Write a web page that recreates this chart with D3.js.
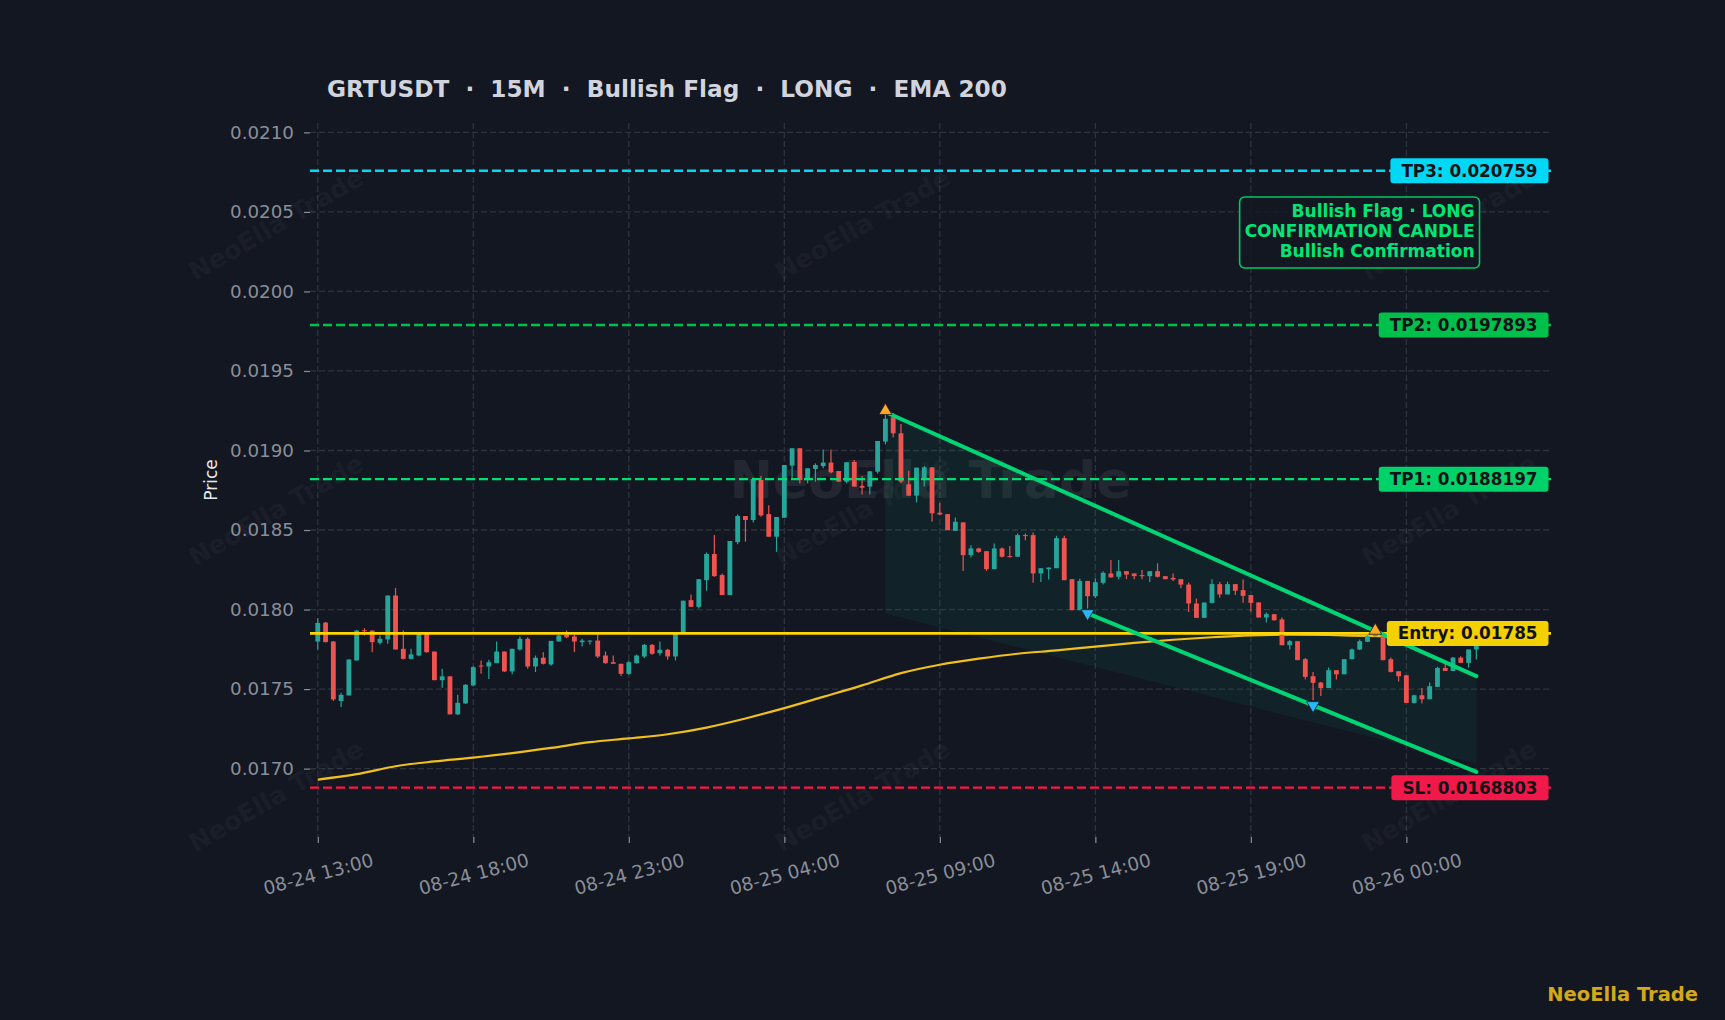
<!DOCTYPE html>
<html lang="en">
<head>
<meta charset="UTF-8">
<title>GRTUSDT 15M Bullish Flag</title>
<script src="https://cdn.jsdelivr.net/npm/d3@7"></script>
<style>
  body { margin: 0; background: #131722; overflow: hidden; }
  svg { display: block; font-family: "DejaVu Sans", sans-serif; }
</style>
</head>
<body>
<svg id="chart" width="1725" height="1020"></svg>
<script>
// ---- data (15m candles, first bar 08-24 13:00) ----
const opens = [
  0.017799,0.017918,0.017799,0.017425,0.017460,0.017680,0.017870,0.017868,0.017791,0.017812,
  0.018088,0.017753,0.017690,0.017711,0.017850,0.017736,0.017556,0.017580,0.017341,0.017410,
  0.017523,0.017648,0.017642,0.017663,0.017736,0.017611,0.017749,0.017816,0.017642,0.017697,
  0.017655,0.017799,0.017841,0.017831,0.017795,0.017799,0.017805,0.017711,0.017669,0.017659,
  0.017596,0.017663,0.017705,0.017778,0.017726,0.017747,0.017705,0.017847,0.018059,0.018017,
  0.018185,0.018349,0.018217,0.018091,0.018424,0.018588,0.018563,0.018815,0.018600,0.018458,
  0.018577,0.018905,0.019014,0.018814,0.018884,0.018902,0.018924,0.018871,0.018804,0.018928,
  0.018777,0.018773,0.018867,0.019056,0.019209,0.019108,0.018787,0.018716,0.018819,0.018894,
  0.018609,0.018600,0.018495,0.018548,0.018342,0.018384,0.018367,0.018254,0.018384,0.018336,
  0.018332,0.018468,0.018468,0.018227,0.018254,0.018260,0.018449,0.018191,0.017996,0.018180,
  0.018084,0.018168,0.018227,0.018206,0.018241,0.018227,0.018216,0.018210,0.018241,0.018210,
  0.018199,0.018191,0.018157,0.018038,0.017948,0.018042,0.018160,0.018095,0.018160,0.018122,
  0.018091,0.018045,0.017950,0.017971,0.017938,0.017776,0.017801,0.017688,0.017581,0.017541,
  0.017507,0.017619,0.017593,0.017688,0.017749,0.017797,0.017833,0.017833,0.017688,0.017612,
  0.017587,0.017413,0.017461,0.017436,0.017514,0.017633,0.017614,0.017698,0.017665,0.017749
];
const highs = [
  0.017946,0.017922,0.017803,0.017477,0.017686,0.017872,0.017883,0.017868,0.017837,0.018088,
  0.018136,0.017868,0.017753,0.017850,0.017852,0.017736,0.017628,0.017580,0.017464,0.017531,
  0.017644,0.017680,0.017684,0.017799,0.017736,0.017753,0.017831,0.017826,0.017711,0.017732,
  0.017803,0.017843,0.017868,0.017841,0.017816,0.017805,0.017841,0.017736,0.017711,0.017659,
  0.017680,0.017717,0.017784,0.017784,0.017799,0.017753,0.017847,0.018056,0.018095,0.018191,
  0.018359,0.018468,0.018227,0.018431,0.018598,0.018588,0.018831,0.018840,0.018655,0.018582,
  0.018909,0.019014,0.019014,0.018888,0.018919,0.019007,0.019007,0.018871,0.018926,0.018940,
  0.018840,0.018869,0.019060,0.019234,0.019234,0.019167,0.018873,0.018892,0.018903,0.018894,
  0.018671,0.018600,0.018579,0.018548,0.018405,0.018388,0.018367,0.018415,0.018390,0.018399,
  0.018478,0.018478,0.018485,0.018260,0.018264,0.018464,0.018464,0.018191,0.018195,0.018180,
  0.018195,0.018241,0.018311,0.018311,0.018241,0.018227,0.018248,0.018241,0.018290,0.018210,
  0.018227,0.018191,0.018170,0.018069,0.018044,0.018191,0.018175,0.018175,0.018160,0.018189,
  0.018091,0.018045,0.017982,0.017971,0.017950,0.017808,0.017801,0.017696,0.017608,0.017545,
  0.017635,0.017619,0.017688,0.017755,0.017812,0.017839,0.017870,0.017850,0.017698,0.017612,
  0.017587,0.017465,0.017507,0.017541,0.017640,0.017661,0.017702,0.017707,0.017749,0.017801
];
const lows = [
  0.017747,0.017793,0.017425,0.017387,0.017460,0.017680,0.017837,0.017732,0.017780,0.017785,
  0.017749,0.017686,0.017686,0.017707,0.017728,0.017556,0.017508,0.017341,0.017337,0.017406,
  0.017520,0.017596,0.017563,0.017663,0.017607,0.017594,0.017743,0.017628,0.017607,0.017655,
  0.017646,0.017799,0.017820,0.017732,0.017768,0.017780,0.017695,0.017659,0.017659,0.017582,
  0.017590,0.017659,0.017695,0.017716,0.017711,0.017684,0.017680,0.017847,0.018017,0.018007,
  0.018118,0.018206,0.018091,0.018091,0.018410,0.018426,0.018548,0.018584,0.018458,0.018363,
  0.018577,0.018825,0.018793,0.018793,0.018804,0.018888,0.018856,0.018804,0.018793,0.018773,
  0.018724,0.018724,0.018856,0.019039,0.019083,0.018793,0.018716,0.018674,0.018773,0.018552,
  0.018594,0.018499,0.018495,0.018243,0.018327,0.018357,0.018243,0.018254,0.018328,0.018328,
  0.018332,0.018436,0.018168,0.018174,0.018189,0.018260,0.018185,0.017996,0.017996,0.018006,
  0.018073,0.018157,0.018202,0.018191,0.018191,0.018191,0.018191,0.018174,0.018202,0.018191,
  0.018180,0.018136,0.017985,0.017948,0.017948,0.018038,0.018076,0.018095,0.018091,0.018042,
  0.017986,0.017950,0.017919,0.017929,0.017776,0.017749,0.017682,0.017562,0.017430,0.017457,
  0.017507,0.017560,0.017593,0.017688,0.017745,0.017797,0.017830,0.017682,0.017604,0.017548,
  0.017413,0.017409,0.017409,0.017436,0.017514,0.017614,0.017614,0.017665,0.017635,0.017686
];
const closes = [
  0.017916,0.017795,0.017435,0.017464,0.017686,0.017868,0.017866,0.017795,0.017816,0.018088,
  0.017749,0.017690,0.017718,0.017850,0.017732,0.017556,0.017580,0.017341,0.017414,0.017527,
  0.017638,0.017645,0.017669,0.017736,0.017611,0.017753,0.017816,0.017642,0.017697,0.017659,
  0.017803,0.017837,0.017826,0.017799,0.017805,0.017805,0.017705,0.017663,0.017659,0.017596,
  0.017669,0.017711,0.017778,0.017722,0.017747,0.017705,0.017847,0.018056,0.018017,0.018191,
  0.018349,0.018210,0.018091,0.018431,0.018588,0.018563,0.018821,0.018592,0.018458,0.018582,
  0.018909,0.019014,0.018814,0.018888,0.018909,0.018924,0.018863,0.018804,0.018926,0.018773,
  0.018766,0.018869,0.019060,0.019199,0.019108,0.018804,0.018716,0.018892,0.018894,0.018605,
  0.018598,0.018499,0.018552,0.018342,0.018384,0.018363,0.018254,0.018384,0.018332,0.018330,
  0.018468,0.018462,0.018227,0.018260,0.018264,0.018449,0.018185,0.017996,0.018180,0.018084,
  0.018172,0.018231,0.018202,0.018241,0.018220,0.018210,0.018210,0.018241,0.018206,0.018191,
  0.018189,0.018157,0.018038,0.017948,0.018044,0.018160,0.018095,0.018160,0.018118,0.018086,
  0.018042,0.017950,0.017971,0.017933,0.017776,0.017801,0.017682,0.017577,0.017539,0.017507,
  0.017619,0.017593,0.017688,0.017749,0.017801,0.017833,0.017855,0.017682,0.017608,0.017581,
  0.017413,0.017461,0.017436,0.017518,0.017633,0.017614,0.017698,0.017665,0.017749,0.017787
];

const emaIndex  = [0,5,10,15,20,25,30,35,40,45,50,55,60,65,70,75,80,85,90,95,100,105,110,115,120,125,130,135,140,145,149];
const emaValues = [0.016931,0.016965,0.017015,0.017045,0.017069,0.017097,0.017130,0.017166,0.017190,0.017216,
                   0.017258,0.017315,0.017380,0.017451,0.017523,0.017600,0.017653,0.017691,0.017722,0.017743,
                   0.017767,0.017790,0.017810,0.017826,0.017838,0.017842,0.017840,0.017834,0.017830,0.017828,0.017826];

const xTickIndex  = [0, 20, 40, 60, 80, 100, 120, 140];
const xTickLabels = ["08-24 13:00","08-24 18:00","08-24 23:00","08-25 04:00","08-25 09:00","08-25 14:00","08-25 19:00","08-26 00:00"];
const yTicks = [0.0170, 0.0175, 0.0180, 0.0185, 0.0190, 0.0195, 0.0200, 0.0205, 0.0210];

// trade levels
const levelNames  = ["TP3", "TP2", "TP1", "Entry", "SL"];
const levelPrices = [0.020759, 0.0197893, 0.0188197, 0.01785, 0.0168803];
const levelText   = ["0.020759", "0.0197893", "0.0188197", "0.01785", "0.0168803"];

// flag geometry [bar index, price]
const flagUpper = [[73, 0.019242], [149, 0.017581]];
const flagLower = [[99, 0.017976], [149, 0.016979]];
const flagZone  = [[73, 0.019242], [149, 0.017581], [149, 0.017030], [73, 0.017975]];

// swing markers
const markerIndex = [73, 136, 99, 128];
const markerPrice = [0.019250, 0.017868, 0.017976, 0.017398];
const markerKind  = ["up", "up", "down", "down"];

const noteLines = ["Bullish Flag · LONG", "CONFIRMATION CANDLE", "Bullish Confirmation"];

// ---- layout ----
const W = 1725, H = 1020;
const plot = { left: 310, right: 1551, top: 123, bottom: 837 };
const colors = {
  bg: "#131722", grid: "#2f333e", tick: "#8a8e98", title: "#d1d4dc",
  up: "#26a69a", down: "#ef5350", ema: "#f0c020", flag: "#00d474"
};
const levelColor = { TP3: "#00d8f5", TP2: "#00c04c", TP1: "#00e070", Entry: "#ffd600", SL: "#ff1744" };
const boxColor   = { TP3: "#00d8f5", TP2: "#00c04c", TP1: "#00d26a", Entry: "#f5d000", SL: "#f0194a" };

const svg = d3.select("#chart");
svg.append("rect").attr("width", W).attr("height", H).attr("fill", colors.bg);

const x = d3.scaleLinear().domain([-1, 158.6]).range([plot.left, plot.right]);
const y = d3.scaleLinear().domain([0.016570, 0.021059]).range([plot.bottom, plot.top]);

// grid
const grid = svg.append("g");
grid.selectAll(".hg").data(yTicks).enter().append("line")
  .attr("x1", plot.left).attr("x2", plot.right)
  .attr("y1", d => y(d)).attr("y2", d => y(d))
  .attr("stroke", colors.grid).attr("stroke-width", 1.3).attr("stroke-dasharray", "6,3");
grid.selectAll(".vg").data(xTickIndex).enter().append("line")
  .attr("x1", d => x(d)).attr("x2", d => x(d))
  .attr("y1", plot.top).attr("y2", plot.bottom)
  .attr("stroke", colors.grid).attr("stroke-width", 1.3).attr("stroke-dasharray", "6,3");

// faint diagonal watermarks
const wmX = [0.16, 0.5, 0.84], wmY = [0.22, 0.5, 0.78];
const wm = svg.append("g");
wmY.forEach(fy => wmX.forEach(fx => {
  wm.append("text")
    .attr("transform", `translate(${fx * W},${fy * H}) rotate(-30)`)
    .attr("text-anchor", "middle").attr("dominant-baseline", "central")
    .attr("font-size", 25.5).attr("font-weight", "bold")
    .attr("fill", "#ffffff").attr("fill-opacity", 0.045)
    .text("NeoElla Trade");
}));
svg.append("text")
  .attr("x", (plot.left + plot.right) / 2).attr("y", (plot.top + plot.bottom) / 2)
  .attr("text-anchor", "middle").attr("dominant-baseline", "central")
  .attr("font-size", 52).attr("font-weight", "bold")
  .attr("fill", "#ffffff").attr("fill-opacity", 0.07)
  .text("NeoElla Trade");

// flag zone
svg.append("path")
  .attr("d", d3.line().x(d => x(d[0])).y(d => y(d[1]))(flagZone) + "Z")
  .attr("fill", "#00c87a").attr("fill-opacity", 0.07);

// EMA
svg.append("path")
  .datum(emaIndex.map((d, i) => [d, emaValues[i]]))
  .attr("d", d3.line().x(d => x(d[0])).y(d => y(d[1])).curve(d3.curveMonotoneX))
  .attr("fill", "none").attr("stroke", colors.ema).attr("stroke-width", 2.2);

// candles
const bodyW = 0.62 * (x(1) - x(0));
const candles = svg.append("g").selectAll("g").data(opens.map((o, i) => i)).enter().append("g");
candles.append("line")
  .attr("x1", i => x(i)).attr("x2", i => x(i))
  .attr("y1", i => y(highs[i])).attr("y2", i => y(lows[i]))
  .attr("stroke", i => closes[i] >= opens[i] ? colors.up : colors.down)
  .attr("stroke-width", 1.2);
candles.append("rect")
  .attr("x", i => x(i) - bodyW / 2).attr("width", bodyW)
  .attr("y", i => y(Math.max(opens[i], closes[i])))
  .attr("height", i => Math.max(1, Math.abs(y(opens[i]) - y(closes[i]))))
  .attr("fill", i => closes[i] >= opens[i] ? colors.up : colors.down);

// level lines
levelNames.forEach((name, k) => {
  svg.append("line")
    .attr("x1", plot.left).attr("x2", plot.right)
    .attr("y1", y(levelPrices[k])).attr("y2", y(levelPrices[k]))
    .attr("stroke", levelColor[name])
    .attr("stroke-width", name === "Entry" ? 2.6 : 2.4)
    .attr("stroke-dasharray", name === "Entry" ? null : "9,4");
});

// flag lines
[flagUpper, flagLower].forEach(seg => {
  svg.append("path")
    .attr("d", d3.line().x(d => x(d[0])).y(d => y(d[1]))(seg))
    .attr("stroke", colors.flag).attr("stroke-width", 4).attr("fill", "none")
    .attr("stroke-linecap", "round");
});

// markers
const tri = d3.symbol(d3.symbolTriangle).size(72);
markerIndex.forEach((idx, k) => {
  const down = markerKind[k] === "down";
  svg.append("path")
    .attr("d", tri())
    .attr("transform", `translate(${x(idx)},${y(markerPrice[k])}) rotate(${down ? 180 : 0})`)
    .attr("fill", down ? "#29b6f6" : "#ffa726")
    .attr("stroke", "#1b1b1b").attr("stroke-width", 0.8);
});

// level labels at the right edge
levelNames.forEach((name, k) => {
  const g = svg.append("g");
  const t = g.append("text")
    .attr("y", y(levelPrices[k])).attr("dominant-baseline", "central")
    .attr("font-size", 16.8).attr("font-weight", "bold").attr("fill", "#101217")
    .text(`${name}: ${levelText[k]}`);
  const tw = t.node().getComputedTextLength();
  const right = plot.right - 2.5, pad = 11;
  t.attr("x", right - pad - tw);
  g.insert("rect", "text")
    .attr("x", right - tw - 2 * pad).attr("y", y(levelPrices[k]) - 12.5)
    .attr("width", tw + 2 * pad).attr("height", 25).attr("rx", 3)
    .attr("fill", boxColor[name]);
});

// note box
const note = svg.append("g");
const noteRight = plot.right - 76.5, noteTop = plot.top + 74;
const noteTexts = noteLines.map((s, k) => note.append("text")
  .attr("x", noteRight).attr("y", noteTop + 20 + k * 20)
  .attr("text-anchor", "end").attr("font-size", 17).attr("font-weight", "bold")
  .attr("fill", "#00e676").text(s));
const noteW = d3.max(noteTexts, t => t.node().getComputedTextLength()) + 10;
note.insert("rect", "text")
  .attr("x", noteRight + 5 - noteW).attr("y", noteTop)
  .attr("width", noteW).attr("height", 71).attr("rx", 5)
  .attr("fill", colors.bg).attr("fill-opacity", 0.85)
  .attr("stroke", "#00c864").attr("stroke-width", 1.6);

// axes
const yAxis = svg.append("g").attr("transform", `translate(${plot.left},0)`)
  .call(d3.axisLeft(y).tickValues(yTicks).tickFormat(d3.format(".4f")).tickSize(6).tickPadding(10));
yAxis.select(".domain").remove();
yAxis.selectAll("line").attr("stroke", colors.tick).attr("stroke-width", 1.2);
yAxis.selectAll("text").attr("fill", colors.tick).attr("font-size", 18.3)
  .attr("font-family", "DejaVu Sans");

const xAxis = svg.append("g").attr("transform", `translate(0,${plot.bottom})`)
  .call(d3.axisBottom(x).tickValues(xTickIndex).tickFormat((d, i) => xTickLabels[i]).tickSize(6));
xAxis.select(".domain").remove();
xAxis.selectAll("line").attr("stroke", colors.tick).attr("stroke-width", 1.2);
xAxis.selectAll("text")
  .attr("fill", colors.tick).attr("font-size", 18.5).attr("font-family", "DejaVu Sans")
  .attr("y", 0).attr("dy", null)
  .attr("text-anchor", "middle").attr("dominant-baseline", "central")
  .attr("transform", "translate(0,37) rotate(-15)");

// labels
svg.append("text")
  .attr("transform", `translate(211,${(plot.top + plot.bottom) / 2}) rotate(-90)`)
  .attr("text-anchor", "middle").attr("dominant-baseline", "central")
  .attr("font-size", 17).attr("fill", "#e6e8ee").text("Price");

svg.append("text")
  .attr("x", 327).attr("y", 97)
  .attr("font-size", 23.2).attr("font-weight", "bold").attr("fill", colors.title)
  .style("white-space", "pre")
  .text("GRTUSDT  ·  15M  ·  Bullish Flag  ·  LONG  ·  EMA 200");

svg.append("text")
  .attr("x", 1698).attr("y", 1001)
  .attr("text-anchor", "end").attr("font-size", 19.5).attr("font-weight", "bold")
  .attr("fill", "#d4a81c").text("NeoElla Trade");
</script>
</body>
</html>
